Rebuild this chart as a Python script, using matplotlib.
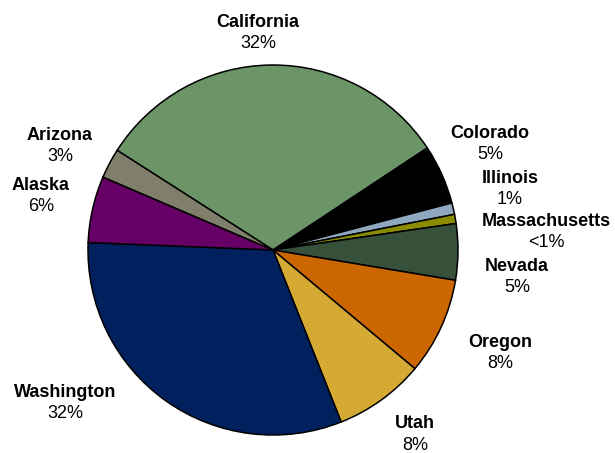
import matplotlib.pyplot as plt

plt.rcParams['font.family'] = ['Liberation Sans', 'DejaVu Sans']

# share of total by state
states = ['California', 'Colorado', 'Illinois', 'Massachusetts', 'Nevada',
          'Oregon', 'Utah', 'Washington', 'Alaska', 'Arizona']
shares = [31.6, 5.2, 1.0, 0.8, 4.9, 8.45, 7.9, 31.6, 5.8, 2.6]
colors = ['#6b9467', '#000000', '#8fa8bf', '#8b8b00', '#37503a',
          '#cc6600', '#d4aa35', '#00215e', '#660066', '#7f7f6b']

# label anchors in pixels: (center x, baseline y of the name line)
label_px = [(258, 27), (490, 138), (510, 183), (546, 226), (517, 271),
            (500, 347), (415, 428), (65, 397), (41, 190), (60, 140)]

W, H = 615, 453
cx, cy, r = 273, 250, 185

fig = plt.figure(figsize=(W / 100, H / 100), dpi=100)
ax = fig.add_axes([0, 0, 1, 1])
ax.pie(shares, colors=colors, startangle=147.4, counterclock=False,
       radius=1.0, wedgeprops=dict(edgecolor='black', linewidth=1.1))
ax.set_xlim(-cx / r, (W - cx) / r)
ax.set_ylim((cy - H) / r, cy / r)
ax.set_aspect('equal')
ax.axis('off')

total = sum(shares)
for name, v, (px, py) in zip(states, shares, label_px):
    pct = 100 * v / total
    txt = '<1%' if pct < 1 else f'{round(pct)}%'
    x = (px - cx) / r
    y = (cy - py) / r
    ax.text(x, y, name, ha='center', va='baseline', fontsize=13,
            fontweight='bold')
    ax.text(x, y - 21.5 / r, txt, ha='center', va='baseline', fontsize=13)

fig.savefig('out.png', dpi=100)
